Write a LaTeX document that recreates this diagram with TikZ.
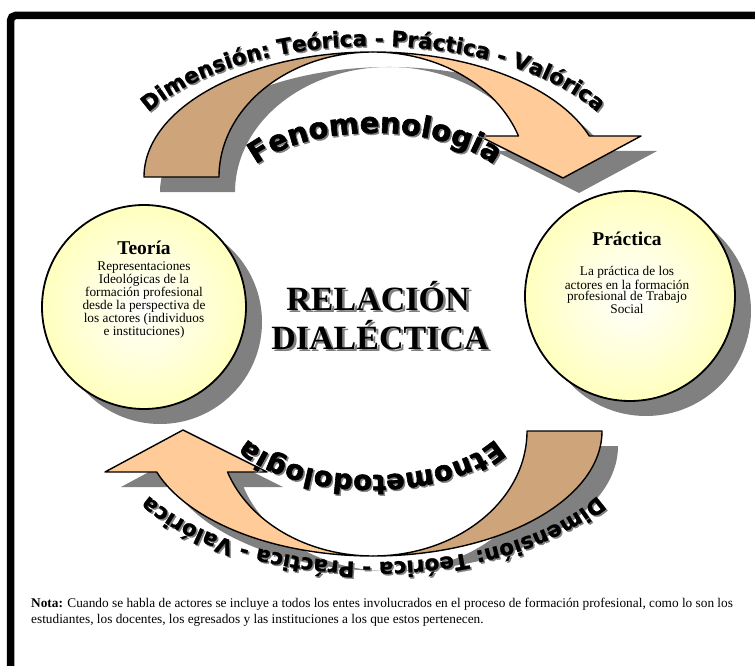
\documentclass[tikz,border=0pt]{standalone}
\usepackage{fontspec}
\setmainfont{Liberation Serif}
\newfontfamily\arcofont{DejaVu Sans}[BoldFeatures={FakeBold=1.2}]
\newfontfamily\arcofuerte{DejaVu Sans}[BoldFeatures={FakeBold=2}]
\usetikzlibrary{positioning,decorations.text,backgrounds}

\definecolor{tostado}{RGB}{206,164,123}
\definecolor{durazno}{RGB}{255,204,153}
\definecolor{amarillo}{RGB}{255,255,190}
\definecolor{sombra}{RGB}{128,128,128}

\newcommand{\fuenteext}{\arcofont\bfseries\fontsize{21.5}{24}\selectfont}
\newcommand{\fuenteint}{\arcofuerte\bfseries\fontsize{29}{32}\selectfont}
\newcommand{\fuenteintb}{\arcofuerte\bfseries\fontsize{27.5}{30}\selectfont}

\begin{document}
\begin{tikzpicture}[x=1pt, y=-1pt,
  contorno/.style={draw=black, line width=1.4pt, line join=round},
  circulo/.style={circle, draw=black, line width=1.8pt, minimum size=204pt, inner sep=0pt,
    shading=radial, inner color=white, outer color=amarillo},
  titulo/.style={font=\bfseries\fontsize{19.5}{22}\selectfont, inner sep=0pt, anchor=base},
  cuerpo/.style={align=center, inner sep=0pt, font=\fontsize{13.3}{11.9}\selectfont},
  central/.style={font=\bfseries\fontsize{34}{39}\selectfont, inner sep=0pt, anchor=base},
  arcotxt/.style={decorate, decoration={text along path, text align=center, text={#1}}},
]

\useasboundingbox (0,0) rectangle (755,666);
\clip (0,0) rectangle (755,666);

%% marco
\draw[line width=7.5pt, rounded corners=5pt] (10.5,15.5) rectangle (790,700);

%% circulos
\node[circulo] (teoria) at (144,307) {};
\node[circulo, minimum size=210pt] (practica) at (630,296) {};

\node[titulo] (teoriatit) at (144,254) {Teoría};
\node[cuerpo, below=7pt of teoriatit] (teoriatxt) {Representaciones\\Ideológicas de la\\formación profesional\\desde la perspectiva de\\los actores (individuos\\e instituciones)};

\node[titulo] (practicatit) at (627,245) {Práctica};
\node[cuerpo, font=\fontsize{13.3}{11}\selectfont, below=21pt of practicatit] (practicatxt) {La práctica de los\\actores en la formación\\profesional de Trabajo\\Social};

%% sombras
\begin{scope}[on background layer]
\fill[white] (0,0) rectangle (755,666);
\fill[sombra] ([shift={(16,15)}]teoria.center) circle (102);
\fill[sombra] ([shift={(16,15)}]practica.center) circle (105);
\foreach \giro in {0,180}{
  \begin{scope}[shift={(16,15)}, rotate around={\giro:(373,304)}]
  \fill[sombra] (144,177) arc[start angle=180, end angle=340.85, x radius=229, y radius=125]
    -- (641,136) -- (563,178) -- (479,136) -- (518.5,136)
    arc[start angle=340.85, end angle=180, x radius=154, y radius=125] -- cycle;
  \end{scope}
}
\end{scope}

%% flechas
\foreach \giro in {0,180}{
  \begin{scope}[rotate around={\giro:(373,304)}]
  \draw[contorno, fill=tostado] (144,177) arc[start angle=180, end angle=270, x radius=229, y radius=125]
    arc[start angle=270, end angle=180, x radius=154, y radius=125] -- cycle;
  \draw[contorno, fill=durazno] (373,52) arc[start angle=270, end angle=340.85, x radius=229, y radius=125]
    -- (641,136) -- (563,178) -- (479,136) -- (518.5,136)
    arc[start angle=340.85, end angle=270, x radius=154, y radius=125] -- cycle;
  \end{scope}
}

%% textos en arco, arriba
\begin{scope}[shift={(1.5,1.5)}]
\path[arcotxt={|\fuenteext|Dimensión: Teórica - Práctica - Valórica}, decoration={text color=sombra}]
  (130.6,132.2) arc[start angle=200, end angle=340, x radius=258, y radius=131];
\path[arcotxt={|\fuenteint|Fenomenologia}, decoration={text color=sombra}]
  (243.4,177.1) arc[start angle=200, end angle=340, x radius=140, y radius=67];
\end{scope}
\path[arcotxt={|\fuenteext|Dimensión: Teórica - Práctica - Valórica}]
  (130.6,132.2) arc[start angle=200, end angle=340, x radius=258, y radius=131];
\path[arcotxt={|\fuenteint|Fenomenologia}]
  (243.4,177.1) arc[start angle=200, end angle=340, x radius=140, y radius=67];

%% textos en arco, abajo
\begin{scope}[shift={(1.5,1.5)}, rotate around={180:(373,304)}]
\path[arcotxt={|\fuenteext|Dimensión: Teórica - Práctica - Valórica}, decoration={text color=sombra}]
  (130.6,132.2) arc[start angle=200, end angle=340, x radius=258, y radius=131];
\path[arcotxt={|\fuenteintb|Etnometodologia}, decoration={text color=sombra}]
  (243.4,177.1) arc[start angle=200, end angle=340, x radius=140, y radius=67];
\end{scope}
\begin{scope}[rotate around={180:(373,304)}]
\path[arcotxt={|\fuenteext|Dimensión: Teórica - Práctica - Valórica}]
  (130.6,132.2) arc[start angle=200, end angle=340, x radius=258, y radius=131];
\path[arcotxt={|\fuenteintb|Etnometodologia}]
  (243.4,177.1) arc[start angle=200, end angle=340, x radius=140, y radius=67];
\end{scope}

%% centro
\node[central, text=sombra] (relacionsombra) at (380.5,312.5) {RELACIÓN};
\node[central, text=sombra] (dialecticasombra) at (382.5,351.5) {DIALÉCTICA};
\node[central] (relacion) at (378,310) {RELACIÓN};
\node[central] (dialectica) at (380,349) {DIALÉCTICA};

%% nota
\node[align=left, inner sep=0pt, anchor=north west, font=\fontsize{13.3}{16}\selectfont] (nota) at (31,598)
  {\textbf{Nota:} Cuando se habla de actores se incluye a todos los entes involucrados en el proceso de formación profesional, como lo son los\\estudiantes, los docentes, los egresados y las instituciones a los que estos pertenecen.};

\end{tikzpicture}
\end{document}
